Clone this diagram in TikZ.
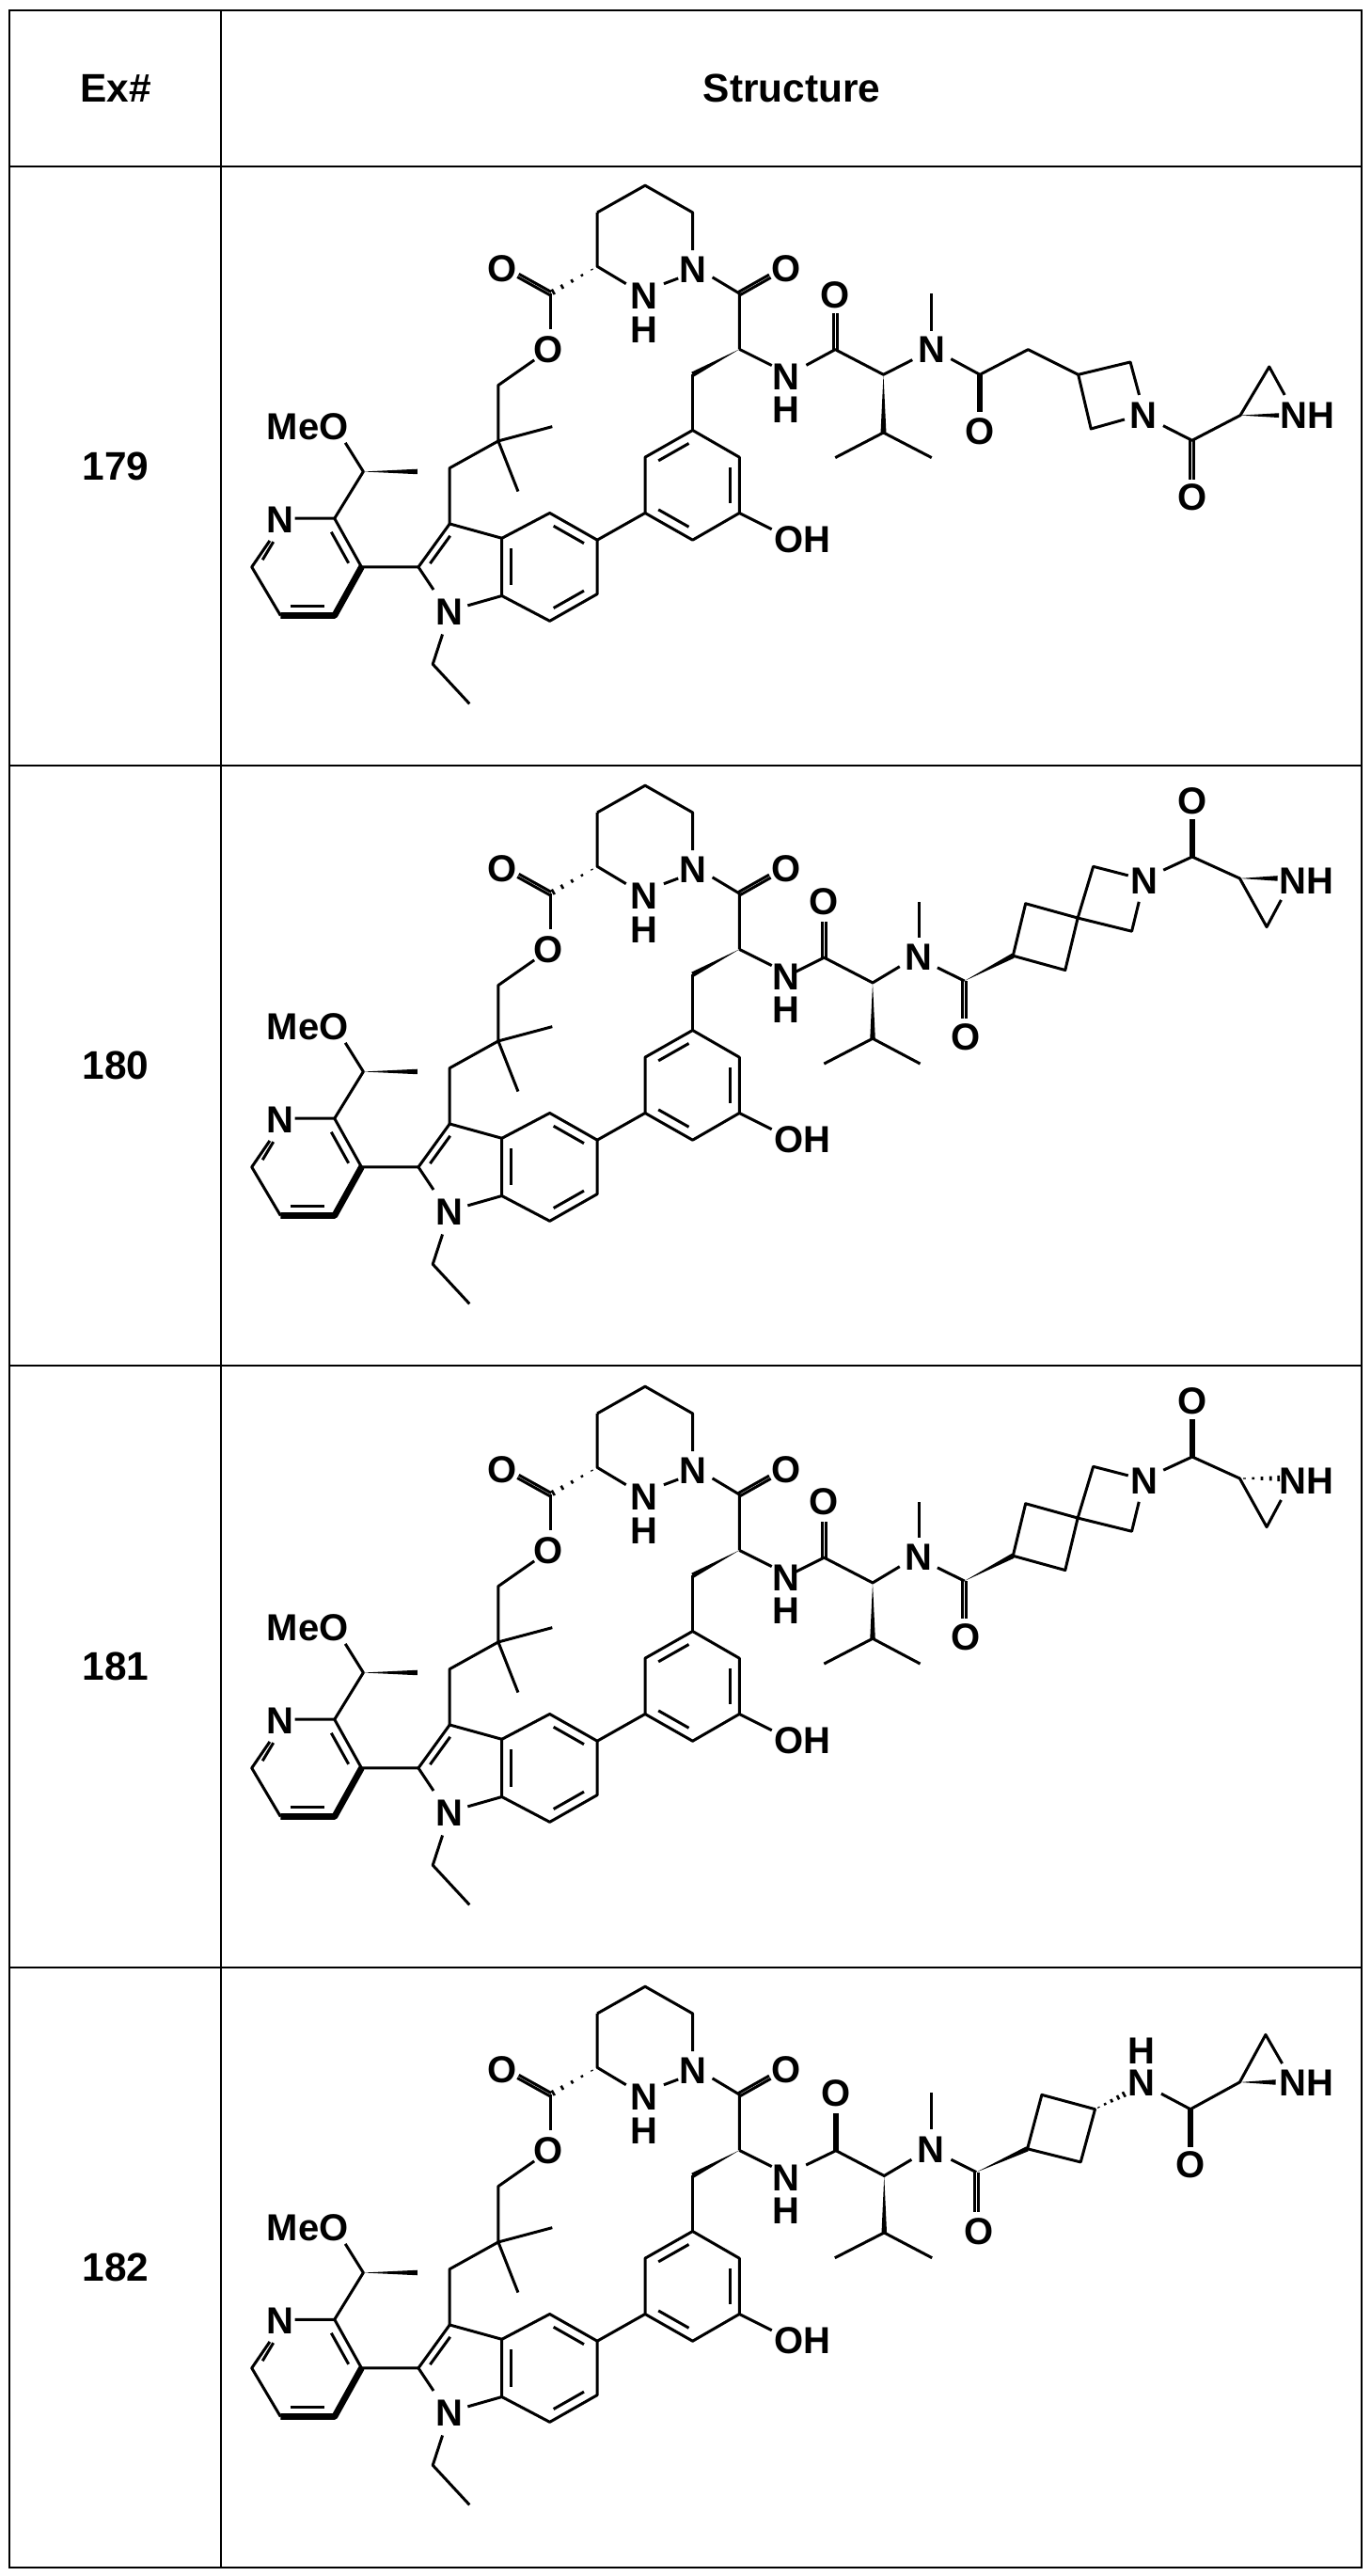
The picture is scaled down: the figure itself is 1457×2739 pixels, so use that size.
\documentclass[tikz,border=0pt]{standalone}
\usepackage{fontspec}
\setmainfont{Liberation Sans}
\usetikzlibrary{calc}
\tikzset{
  bd/.style={line width=0.75pt, line join=round},
  tb/.style={line width=0.6pt},
  lb/.style={inner sep=0pt, font=\fontsize{10}{10}\selectfont\bfseries},
  hd/.style={inner sep=0pt, font=\fontsize{10.6}{12}\selectfont\bfseries}
}
\newcommand\dbl[2]{\draw[bd] ($(#1)!1.15pt!90:(#2)$) -- ($(#2)!1.15pt!-90:(#1)$); \draw[bd] ($(#1)!1.15pt!-90:(#2)$) -- ($(#2)!1.15pt!90:(#1)$);}
\newcommand\inl[3]{\draw[bd] ($($(#1)!0.2!(#3)$)!0.1!($(#2)!0.2!(#3)$)$) -- ($($(#2)!0.2!(#3)$)!0.1!($(#1)!0.2!(#3)$)$);}
\newcommand\wdg[2]{\fill (#1) -- ($(#2)!1.8pt!90:(#1)$) -- ($(#2)!1.8pt!-90:(#1)$) -- cycle;}
\newcommand\hsh[2]{\foreach \t/\w in {0.12/0.4pt,0.34/0.8pt,0.56/1.2pt,0.78/1.6pt,0.98/2pt}{%
  \coordinate (hc) at ($(#1)!\t!(#2)$);
  \draw[line width=0.65pt] ($(hc)!\w!90:(#2)$) -- ($(hc)!\w!-90:(#2)$);}}
\newcommand\macro[1]{%
\begin{scope}[shift={(262,180+#1)}, scale=0.3827]
 \draw[bd] (975,120)--(1108,45)--(1240,120)--(1240,225);
 \draw[bd] (975,120)--(975,270)--(1055,318);
 \draw[bd] (1160,318)--(1200,303);
 \node[lb] (n2#1) at (1240,278) {N};
 \node[lb] (n1#1) at (1105,352) {N};
 \node[lb] (h1#1) at (1105,445) {H};
 \hsh{975,270}{850,342}
 \dbl{845,345}{755,295}
 \node[lb] (oa#1) at (710,275) {O};
 \draw[bd] (845,345)--(845,445);
 \node[lb] (ob#1) at (840,500) {O};
 \draw[bd] (800,530)--(700,600)--(700,755)--(850,715);
 \draw[bd] (700,755)--(755,895);
 \draw[bd] (700,755)--(565,830)--(565,985);
 \draw[bd] (565,985)--(478,1105)--(520,1168);
 \node[lb] (ni#1) at (565,1230) {N};
 \draw[bd] (615,1212)--(710,1185);
 \draw[bd] (710,1185)--(710,1025)--(565,985);
 \draw[bd] (710,1025)--(843,955)--(975,1030)--(975,1180)--(843,1255)--(710,1185);
 \inl{565,985}{478,1105}{606,1104}
 \inl{710,1025}{710,1185}{843,1105}
 \inl{843,955}{975,1030}{843,1105}
 \inl{975,1180}{843,1255}{843,1105}
 \draw[bd] (545,1292)--(518,1375)--(620,1485);
 \draw[bd] (478,1105)--(320,1105)--(245,970)--(135,970);
 \node[lb] (np#1) at (95,975) {N};
 \draw[bd] (65,1032)--(15,1105)--(95,1240);
 \draw[line width=1.7pt, line join=round] (95,1240)--(245,1240)--(320,1105);
 \inl{245,970}{320,1105}{170,1105}
 \inl{95,1240}{245,1240}{170,1105}
 \draw[bd] (45,1085)--(75,1035);
 \draw[bd] (245,970)--(325,840)--(275,760);
 \node[lb] (me#1) at (170,715) {MeO};
 \wdg{325,840}{475,840}
 \draw[bd] (975,1030)--(1108,955)--(1108,800)--(1240,725)--(1370,800)--(1370,955)--(1240,1030)--(1108,955);
 \inl{1108,800}{1240,725}{1240,878}
 \inl{1370,800}{1370,955}{1240,878}
 \inl{1108,955}{1240,1030}{1240,878}
 \draw[bd] (1370,955)--(1460,1000);
 \node[lb, anchor=west] (oh#1) at (1466,1030) {OH};
 \draw[bd] (1240,725)--(1240,570);
 \wdg{1370,500}{1240,570}
 \draw[bd] (1370,500)--(1370,345)--(1295,300);
 \dbl{1370,345}{1455,297}
 \node[lb] (oc#1) at (1500,275) {O};
 \draw[bd] (1370,500)--(1460,545);
 \node[lb] (nn#1) at (1500,577) {N};
 \node[lb] (hn#1) at (1500,667) {H};
\end{scope}}
\newcommand\spiro[1]{%
\begin{scope}[shift={(840,800+#1)}, scale=0.3827]
 \draw[bd] (15,610)--(95,570)--(230,640)--(305,595);
 \dbl{95,570}{95,470}
 \node[lb] (sa#1) at (95,415) {O};
 \node[lb] (sn#1) at (358,570) {N};
 \draw[bd] (358,515)--(358,415);
 \wdg{230,640}{230,795}
 \draw[bd] (95,865)--(230,795)--(362,865);
 \draw[bd] (410,598)--(485,635);
 \dbl{485,635}{485,740}
 \node[lb] (sb#1) at (488,792) {O};
 \wdg{485,635}{620,565}
 \draw[bd] (620,565)--(655,420)--(800,460)--(765,605)--cycle;
 \draw[bd] (800,460)--(843,317)--(940,342);
 \draw[bd] (970,415)--(950,497)--(800,460);
 \node[lb] (sc#1) at (985,357) {N};
 \draw[bd] (1038,327)--(1118,290)--(1250,350)--(1325,485)--(1365,410);
 \dbl{1118,290}{1118,185}
 \node[lb] (sd#1) at (1118,135) {O};
 \node[lb] (se#1) at (1435,357) {NH};
\end{scope}}
\begin{document}
\begin{tikzpicture}[x=0.25pt, y=-0.25pt]
\useasboundingbox (0,0) rectangle (1457,2739);
\draw[tb] (10,11) rectangle (1448,2730);
\draw[tb] (235,11)--(235,2730);
\foreach \yy in {177,814,1452,2092} \draw[tb] (10,\yy)--(1448,\yy);
\node[hd] (h1) at (123,94) {Ex\#};
\node[hd] (h2) at (842,94) {Structure};
\node[hd] (r1) at (123,496) {179};
\node[hd] (r2) at (123,1133) {180};
\node[hd] (r3) at (123,1772) {181};
\node[hd] (r4) at (123,2411) {182};
\macro{0}
\macro{638}
\macro{1277}
\macro{1915}
% row 179 right part
\begin{scope}[shift={(800,180)}, xscale=0.41026, yscale=0.3333]
 \draw[bd] (140,625)--(215,575)--(340,655)--(415,608);
 \dbl{215,575}{215,460}
 \node[lb] (ta) at (215,400) {O};
 \node[lb] (tn) at (465,575) {N};
 \draw[bd] (465,515)--(465,395);
 \wdg{340,655}{340,840}
 \draw[bd] (215,920)--(340,840)--(465,920);
 \draw[bd] (515,605)--(590,655)--(715,575)--(845,655);
 \dbl{590,655}{590,775}
 \node[lb] (tb) at (590,835) {O};
 \draw[bd] (845,655)--(980,615)--(1003,720);
 \draw[bd] (965,798)--(878,828)--(845,655);
 \node[lb] (tc) at (1015,785) {N};
 \draw[bd] (1065,818)--(1140,865)--(1265,785)--(1340,630)--(1380,720);
 \dbl{1140,865}{1140,990}
 \node[lb] (td) at (1140,1045) {O};
 \wdg{1265,785}{1365,785}
 \node[lb] (te) at (1440,785) {NH};
\end{scope}
% row 180
\spiro{0}
\begin{scope}[shift={(840,800)}, scale=0.3827]
 \wdg{1250,350}{1355,350}
\end{scope}
% row 181
\spiro{638}
\begin{scope}[shift={(840,1438)}, scale=0.3827]
 \hsh{1250,350}{1360,350}
\end{scope}
% row 182
\begin{scope}[shift={(840,2080)}, scale=0.3827]
 \draw[bd] (45,580)--(128,540)--(262,610)--(338,565);
 \dbl{128,540}{128,435}
 \node[lb] (ua) at (128,380) {O};
 \node[lb] (un) at (393,537) {N};
 \draw[bd] (393,480)--(393,380);
 \wdg{262,610}{262,768}
 \draw[bd] (125,838)--(262,768)--(395,838);
 \draw[bd] (448,565)--(518,600);
 \dbl{518,600}{518,710}
 \node[lb] (ub) at (525,765) {O};
 \wdg{518,600}{660,535}
 \draw[bd] (660,535)--(700,385)--(848,425)--(808,572)--cycle;
 \hsh{848,425}{930,383}
 \node[lb] (uc) at (978,352) {N};
 \node[lb] (uh) at (978,262) {H};
 \draw[bd] (1032,382)--(1113,425)--(1250,350)--(1322,218)--(1368,298);
 \dbl{1113,425}{1113,530}
 \node[lb] (ud) at (1113,580) {O};
 \wdg{1250,350}{1350,350}
 \node[lb] (ue) at (1435,352) {NH};
\end{scope}
\end{tikzpicture}
\end{document}
